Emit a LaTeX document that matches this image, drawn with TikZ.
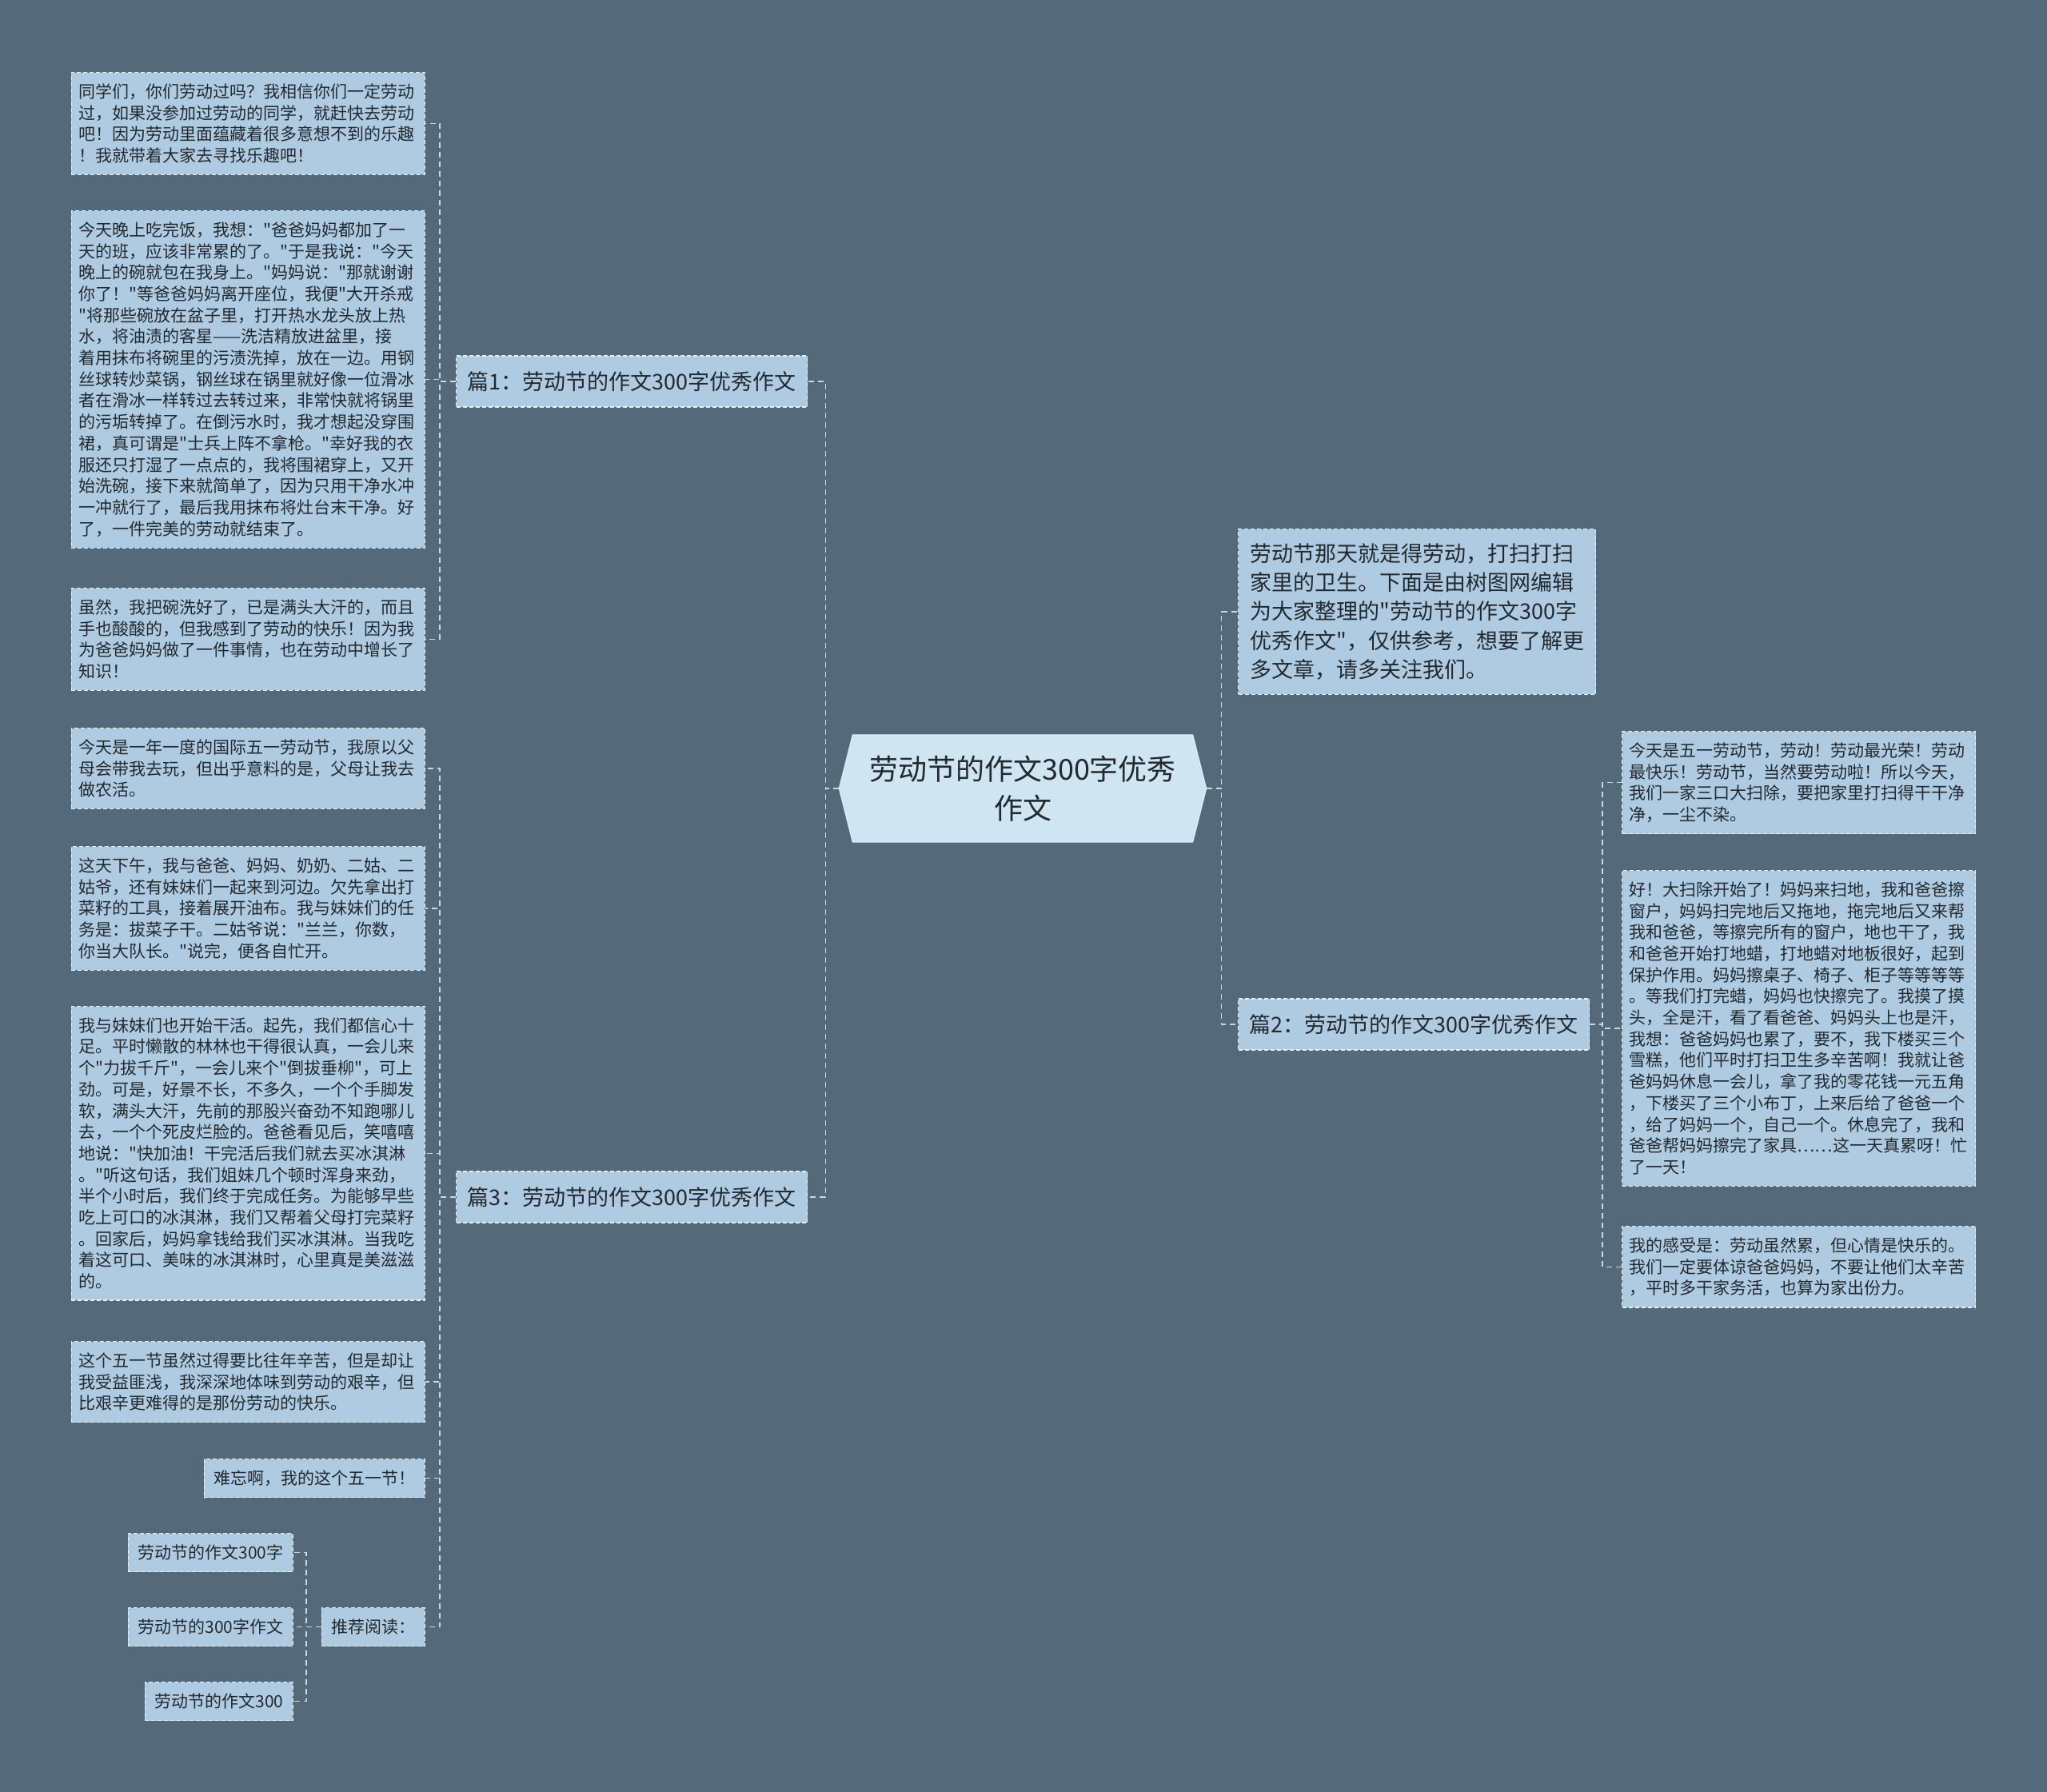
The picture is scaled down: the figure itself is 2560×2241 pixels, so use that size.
\documentclass[tikz,border=0pt]{standalone}
\usepackage{fontspec}
\newfontfamily\cjk{Noto Sans CJK SC}
\usetikzlibrary{backgrounds}

\definecolor{bgcol}{HTML}{546A7A}
\definecolor{leafcol}{HTML}{AECBE1}
\definecolor{rootcol}{HTML}{CFE5F2}
\definecolor{edgecol}{HTML}{E6F0F7}
\definecolor{linkcol}{HTML}{CBD8E1}
\definecolor{txtcol}{HTML}{22292F}

\tikzset{
  boxed/.style={draw=edgecol, fill=leafcol, text=txtcol, line width=1.1pt,
    dash pattern=on 5pt off 3pt},
  leaf/.style={boxed, font=\cjk\fontsize{21}{26.7}\selectfont,
    inner xsep=9pt, inner ysep=14pt, align=left},
  bigleaf/.style={leaf, text width=424pt},
  smallleaf/.style={leaf, inner xsep=12pt, minimum height=48pt},
  branch/.style={boxed, font=\cjk\fontsize{27}{36.3}\selectfont,
    inner xsep=14pt, minimum height=64pt, anchor=west},
  rootbox/.style={text=txtcol, font=\cjk\fontsize{36}{49}\selectfont,
    align=center, minimum width=425pt, minimum height=134pt, inner sep=0pt},
  conn/.style={draw=linkcol, line width=1.5pt, dash pattern=on 7pt off 5pt}
}

\begin{document}
\begin{tikzpicture}[x=1pt,y=-1pt]

% Background
\begin{scope}[on background layer]
\fill[bgcol] (0,0) rectangle (2560,2241);
\end{scope}
\useasboundingbox (0,0) rectangle (2560,2241);

% Root
\node[rootbox] (root) at (1279,986) {劳动节的作文300字优秀\\作文};
\coordinate (rootL) at ([xshift=-17pt]root.west);
\coordinate (rootR) at ([xshift=17pt]root.east);
\begin{scope}[on background layer]
\filldraw[fill=rootcol, draw=rootcol!60!white, line width=1pt]
  (root.north west) -- (root.north east) -- (rootR)
  -- (root.south east) -- (root.south west) -- (rootL) -- cycle;
\end{scope}

% Branches
\node[branch] (p1) at (570,477) {篇1：劳动节的作文300字优秀作文};
\node[branch] (p3) at (570,1497) {篇3：劳动节的作文300字优秀作文};
\node[branch] (p2) at (1548,1281) {篇2：劳动节的作文300字优秀作文};
\node[boxed, anchor=north west, text width=417pt, inner xsep=15pt, inner ysep=18pt,
  align=left, font=\cjk\fontsize{27}{36.3}\selectfont] (intro) at (1548,661)
  {劳动节那天就是得劳动，打扫打扫\\
   家里的卫生。下面是由树图网编辑\\
   为大家整理的"劳动节的作文300字\\
   优秀作文"，仅供参考，想要了解更\\
   多文章，请多关注我们。};

% Leaves of 篇1
\node[bigleaf, anchor=north east] (l1) at (532,90)
  {同学们，你们劳动过吗？我相信你们一定劳动\\
   过，如果没参加过劳动的同学，就赶快去劳动\\
   吧！因为劳动里面蕴藏着很多意想不到的乐趣\\
   ！我就带着大家去寻找乐趣吧！};
\node[bigleaf, anchor=north east] (l2) at (532,263)
  {今天晚上吃完饭，我想："爸爸妈妈都加了一\\
   天的班，应该非常累的了。"于是我说："今天\\
   晚上的碗就包在我身上。"妈妈说："那就谢谢\\
   你了！"等爸爸妈妈离开座位，我便"大开杀戒\\
   "将那些碗放在盆子里，打开热水龙头放上热\\
   水，将油渍的客星——洗洁精放进盆里，接\\
   着用抹布将碗里的污渍洗掉，放在一边。用钢\\
   丝球转炒菜锅，钢丝球在锅里就好像一位滑冰\\
   者在滑冰一样转过去转过来，非常快就将锅里\\
   的污垢转掉了。在倒污水时，我才想起没穿围\\
   裙，真可谓是"士兵上阵不拿枪。"幸好我的衣\\
   服还只打湿了一点点的，我将围裙穿上，又开\\
   始洗碗，接下来就简单了，因为只用干净水冲\\
   一冲就行了，最后我用抹布将灶台末干净。好\\
   了，一件完美的劳动就结束了。};
\node[bigleaf, anchor=north east] (l3) at (532,735)
  {虽然，我把碗洗好了，已是满头大汗的，而且\\
   手也酸酸的，但我感到了劳动的快乐！因为我\\
   为爸爸妈妈做了一件事情，也在劳动中增长了\\
   知识！};

% Leaves of 篇3
\node[bigleaf, anchor=north east] (l4) at (532,910)
  {今天是一年一度的国际五一劳动节，我原以父\\
   母会带我去玩，但出乎意料的是，父母让我去\\
   做农活。};
\node[bigleaf, anchor=north east] (l5) at (532,1058)
  {这天下午，我与爸爸、妈妈、奶奶、二姑、二\\
   姑爷，还有妹妹们一起来到河边。欠先拿出打\\
   菜籽的工具，接着展开油布。我与妹妹们的任\\
   务是：拔菜子干。二姑爷说："兰兰，你数，\\
   你当大队长。"说完，便各自忙开。};
\node[bigleaf, anchor=north east] (l6) at (532,1258)
  {我与妹妹们也开始干活。起先，我们都信心十\\
   足。平时懒散的林林也干得很认真，一会儿来\\
   个"力拔千斤"，一会儿来个"倒拔垂柳"，可上\\
   劲。可是，好景不长，不多久，一个个手脚发\\
   软，满头大汗，先前的那股兴奋劲不知跑哪儿\\
   去，一个个死皮烂脸的。爸爸看见后，笑嘻嘻\\
   地说："快加油！干完活后我们就去买冰淇淋\\
   。"听这句话，我们姐妹几个顿时浑身来劲，\\
   半个小时后，我们终于完成任务。为能够早些\\
   吃上可口的冰淇淋，我们又帮着父母打完菜籽\\
   。回家后，妈妈拿钱给我们买冰淇淋。当我吃\\
   着这可口、美味的冰淇淋时，心里真是美滋滋\\
   的。};
\node[bigleaf, anchor=north east] (l7) at (532,1677)
  {这个五一节虽然过得要比往年辛苦，但是却让\\
   我受益匪浅，我深深地体味到劳动的艰辛，但\\
   比艰辛更难得的是那份劳动的快乐。};
\node[smallleaf, anchor=north east] (l8) at (532,1824) {难忘啊，我的这个五一节！};
\node[smallleaf, anchor=north east] (rec) at (532,2010) {推荐阅读：};
\node[smallleaf, anchor=north east] (rc1) at (367,1917) {劳动节的作文300字};
\node[smallleaf, anchor=north east] (rc2) at (367,2010) {劳动节的300字作文};
\node[smallleaf, anchor=north east] (rc3) at (367,2103) {劳动节的作文300};

% Leaves of 篇2
\node[bigleaf, anchor=north west] (q1) at (2028,914)
  {今天是五一劳动节，劳动！劳动最光荣！劳动\\
   最快乐！劳动节，当然要劳动啦！所以今天，\\
   我们一家三口大扫除，要把家里打扫得干干净\\
   净，一尘不染。};
\node[bigleaf, anchor=north west] (q2) at (2028,1088)
  {好！大扫除开始了！妈妈来扫地，我和爸爸擦\\
   窗户，妈妈扫完地后又拖地，拖完地后又来帮\\
   我和爸爸，等擦完所有的窗户，地也干了，我\\
   和爸爸开始打地蜡，打地蜡对地板很好，起到\\
   保护作用。妈妈擦桌子、椅子、柜子等等等等\\
   。等我们打完蜡，妈妈也快擦完了。我摸了摸\\
   头，全是汗，看了看爸爸、妈妈头上也是汗，\\
   我想：爸爸妈妈也累了，要不，我下楼买三个\\
   雪糕，他们平时打扫卫生多辛苦啊！我就让爸\\
   爸妈妈休息一会儿，拿了我的零花钱一元五角\\
   ，下楼买了三个小布丁，上来后给了爸爸一个\\
   ，给了妈妈一个，自己一个。休息完了，我和\\
   爸爸帮妈妈擦完了家具……这一天真累呀！忙\\
   了一天！};
\node[bigleaf, anchor=north west] (q3) at (2028,1533)
  {我的感受是：劳动虽然累，但心情是快乐的。\\
   我们一定要体谅爸爸妈妈，不要让他们太辛苦\\
   ，平时多干家务活，也算为家出份力。};

% Connectors
\foreach \n in {p1,p3}
  \draw[conn] (rootL) -- ++(-17,0) |- (\n.east);
\foreach \n in {intro,p2}
  \draw[conn] (rootR) -- ++(19,0) |- (\n.west);
\foreach \n in {l1,l2,l3}
  \draw[conn] (p1.west) -- ++(-20,0) |- (\n.east);
\foreach \n in {l4,l5,l6,l7,l8,rec}
  \draw[conn] (p3.west) -- ++(-20,0) |- (\n.east);
\foreach \n in {rc1,rc2,rc3}
  \draw[conn] (rec.west) -- ++(-19,0) |- (\n.east);
\foreach \n in {q1,q2,q3}
  \draw[conn] (p2.east) -- ++(16,0) |- (\n.west);

\end{tikzpicture}
\end{document}
